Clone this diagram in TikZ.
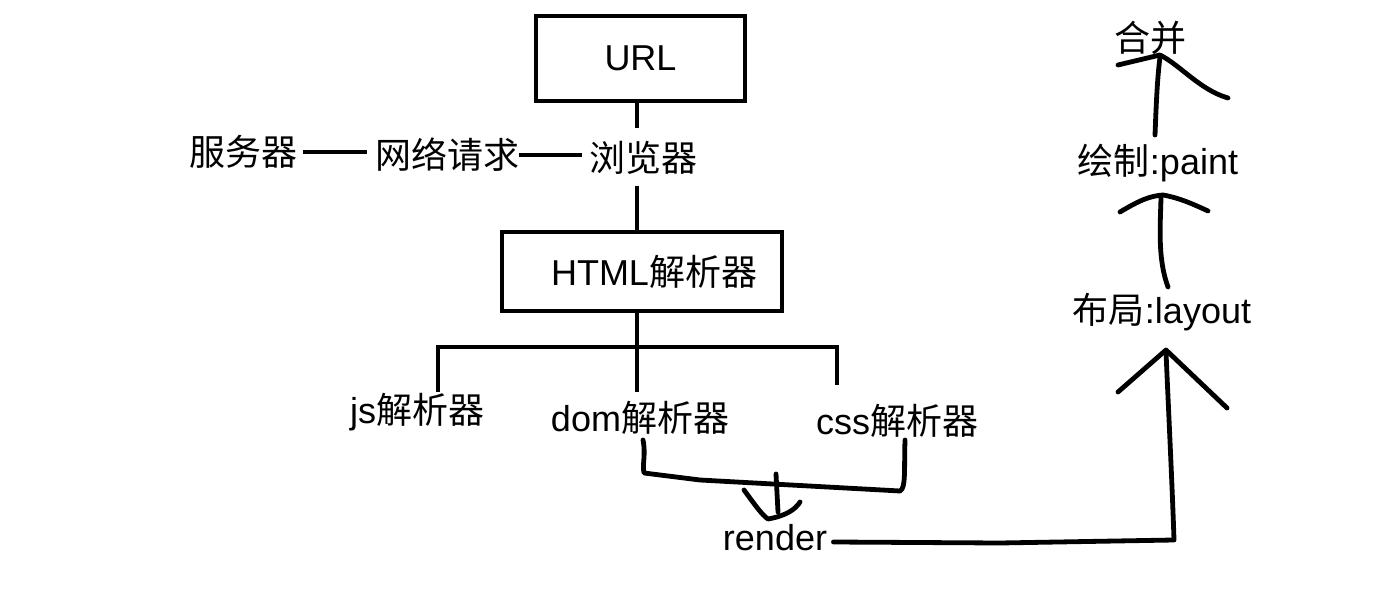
\documentclass[tikz,border=0pt]{standalone}
\usepackage{fontspec}
\setmainfont{Noto Sans CJK SC}
\newfontfamily\lat{Liberation Sans}
\begin{document}
\begin{tikzpicture}[x=0.5pt,y=-0.5pt,
  lbl/.style={inner sep=0pt,font=\fontsize{18}{21}\selectfont},
  boxline/.style={line width=1.6pt},
  pen/.style={line width=2.4pt,line cap=round,line join=round}]
\useasboundingbox (0,0) rectangle (1400,608);
% boxes
\node[boxline,draw,minimum width=209*0.5pt,minimum height=85*0.5pt,lbl] (url) at (640.5,58.5) {\lat URL};
\node[boxline,draw,minimum width=280*0.5pt,minimum height=79*0.5pt] (html) at (642,271.5) {};
\node[lbl] (htmltxt) at (654,272) {{\lat HTML}解析器};
% texts
\node[lbl] (browser) at (643,158) {浏览器};
\node[lbl] (server) at (243,152) {服务器};
\node[lbl] (net) at (447,155) {网络请求};
\node[lbl] (js) at (417,412) {{\lat js}解析器};
\node[lbl] (dom) at (640,418) {{\lat dom}解析器};
\node[lbl] (css) at (897,421) {{\lat css}解析器};
\node[lbl] (render) at (775,538) {\lat render};
\node[lbl] (layout) at (1162,312) {布局{\lat :layout}};
\node[lbl] (paint) at (1158,163) {绘制{\lat :paint}};
\node[lbl] (merge) at (1150,38) {合并};
% straight connectors
\draw[boxline] (url.south -| 637,0) -- (637,128);
\draw[boxline] (637,186) -- (html.north -| 637,0);
\draw[boxline] (server.east) ++(6,0) -- (367,152);
\draw[boxline] (net.east) -- (582,155);
\draw[boxline] (html.south -| 637,0) -- (637,392);
\draw[boxline] (438,392) -- (438,347) -- (837,347) -- (837,385);
% hand drawn bracket dom -> render <- css
\draw[pen] (643,440) .. controls (646,455) and (642,465) .. (644,473) -- (700,480) -- (900,491) .. controls (906,488) and (904,470) .. (905,440);
\draw[pen] (776,474) -- (778,512);
\draw[pen] (744,490) .. controls (755,505) and (762,515) .. (768,519) .. controls (785,516) and (795,510) .. (800,502);
% render -> layout
\draw[pen] (render.east) ++(6,4) coordinate (r0) -- (1000,543) -- (1174,540) .. controls (1172,480) and (1168,400) .. (1166,352);
\draw[pen] (1118,392) -- (1166,350) -- (1227,408);
% layout -> paint
\draw[pen] (1168,287) .. controls (1158,260) and (1160,230) .. (1161,198);
\draw[pen] (1120,212) .. controls (1140,200) and (1150,196) .. (1163,195) .. controls (1180,198) and (1195,205) .. (1208,211);
% paint -> merge
\draw[pen] (1155,135) .. controls (1156,110) and (1157,80) .. (1160,57);
\draw[pen] (1118,65) -- (1160,55) .. controls (1180,65) and (1200,90) .. (1228,98);
\end{tikzpicture}
\end{document}
